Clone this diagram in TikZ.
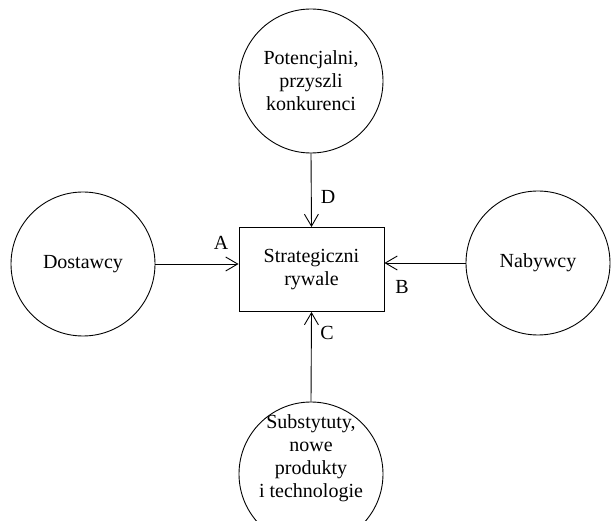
\documentclass[tikz,border=0pt]{standalone}
\usepackage{fontspec}
\setmainfont{Liberation Serif}
\usetikzlibrary{arrows.meta}
\begin{document}
\begin{tikzpicture}[x=1pt,y=-1pt,
  every node/.style={font=\fontsize{20}{23}\selectfont, inner sep=0pt},
  force/.style={circle, draw, line width=0.9pt, minimum size=144pt, align=center},
  rival/.style={draw, line width=0.9pt, minimum width=145pt, minimum height=84pt, align=center},
  conn/.style={line width=0.9pt, -{Straight Barb[length=12pt,width=14pt,line width=0.9pt]}},
  lbl/.style={font=\fontsize{20}{23}\selectfont}]
\useasboundingbox (0,0) rectangle (611,521);
\clip (0,0) rectangle (611,521);
\fill[white] (0,0) rectangle (611,521);
\node[rival] (R) at (311.5,269.5) {Strategiczni\\rywale};
\node[force] (T) at (311,81) {Potencjalni,\\przyszli\\konkurenci};
\node[force] (L) at (83,264) {Dostawcy};
\node[force] (Rt) at (538,263) {Nabywcy};
\node[force] (B) at (311,474) {};
\node[align=center] (Btext) at (311,458) {Substytuty,\\nowe\\produkty\\i technologie};
\draw[conn] (T.south) -- (R.north);
\draw[conn] (L.east) -- (L.east -| R.west);
\draw[conn] (Rt.west) -- (Rt.west -| R.east);
\draw[conn] (B.north) -- (R.south);
\node[lbl] (lA) at (221,243) {A};
\node[lbl] (lB) at (402,287) {B};
\node[lbl] (lC) at (327,333) {C};
\node[lbl] (lD) at (328,197) {D};
\end{tikzpicture}
\end{document}
